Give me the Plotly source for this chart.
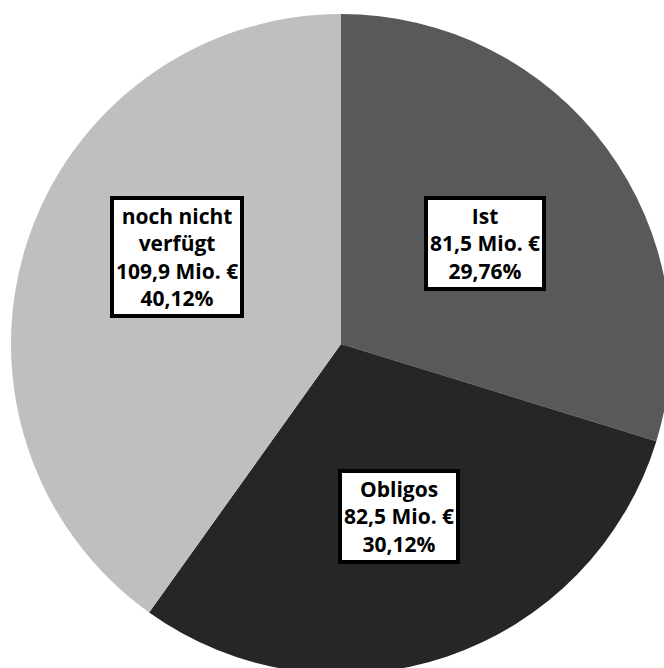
import plotly.graph_objects as go

# Data
categories = ["Ist", "Obligos", "noch nicht<br>verfügt"]
values_mio = [81.5, 82.5, 109.9]
colors = ["#595959", "#262626", "#bfbfbf"]

# label box centres (pixel positions on the page)
label_px = [(484.5, 243.5), (398.5, 516.5), (177, 257)]

W, H = 682, 688  # figure larger than window; pie is clipped by the window like the reference
cx, cy, r = 341, 344, 330

total = sum(values_mio)

def de(num, nd):
    return f"{num:.{nd}f}".replace(".", ",")

fig = go.Figure(go.Pie(
    labels=categories,
    values=values_mio,
    sort=False,
    direction="clockwise",
    rotation=0,
    marker=dict(colors=colors, line=dict(width=0)),
    textinfo="none",
    hoverinfo="label+value+percent",
    showlegend=False,
    domain=dict(x=[(cx - r) / W, (cx + r) / W], y=[1 - (cy + r) / H, 1 - (cy - r) / H]),
))

for cat, v, (px, py) in zip(categories, values_mio, label_px):
    txt = f"{cat}<br>{de(v, 1)} Mio. €<br>{de(v / total * 100, 2)}%"
    fig.add_annotation(
        x=px / W, y=1 - py / H, xref="paper", yref="paper",
        text=f"<b>{txt}</b>", showarrow=False, align="center",
        font=dict(family="Open Sans", size=21, color="black"),
        bgcolor="white", bordercolor="black", borderwidth=4, borderpad=2,
        xanchor="center", yanchor="middle",
    )

fig.update_layout(
    width=W, height=H,
    margin=dict(l=0, r=0, t=0, b=0),
    paper_bgcolor="white", plot_bgcolor="white",
)

fig.write_html(
    "out.html",
    post_script="document.documentElement.style.overflow='hidden';document.body.style.overflow='hidden';document.body.style.margin='0';",
)
